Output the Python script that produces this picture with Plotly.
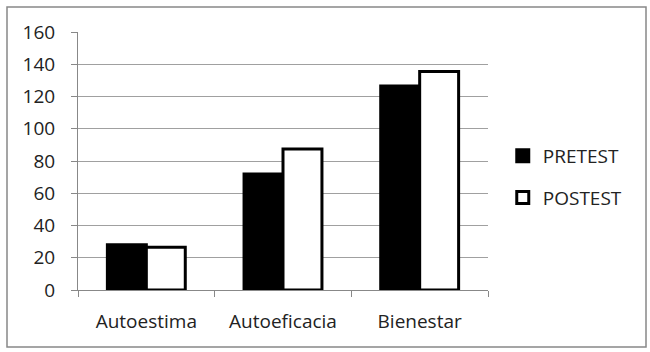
import plotly.graph_objects as go

categories = ["Autoestima", "Autoeficacia", "Bienestar"]
pretest = [28, 72, 126.5]
postest = [26.5, 87.5, 135.5]
y_ticks = [0, 20, 40, 60, 80, 100, 120, 140, 160]

FONT = "Open Sans, Liberation Sans, sans-serif"

fig = go.Figure()
fig.add_trace(go.Bar(x=categories, y=pretest, name="PRETEST", legendgroup="a",
                     marker=dict(color="black", line=dict(color="black", width=3))))
fig.add_trace(go.Bar(x=categories, y=postest, name="POSTEST", legendgroup="b",
                     marker=dict(color="white", line=dict(color="black", width=3))))

L, R, T, B = 78, 488, 32, 290
W, H = 650, 352
fig.update_layout(
    width=W, height=H,
    margin=dict(l=L, r=W - R, t=T, b=H - B, autoexpand=False),
    paper_bgcolor="white", plot_bgcolor="white",
    barmode="group", bargap=0.43, bargroupgap=0,
    font=dict(family=FONT, size=19, color="#222"),
    showlegend=True,
    legend=dict(x=1.036, y=0.438, xanchor="left", yanchor="middle",
                tracegroupgap=14, font=dict(size=19, color="#222"),
                itemwidth=30, traceorder="grouped"),
    xaxis=dict(showline=True, linecolor="#888", linewidth=1,
               ticks="outside", tickcolor="#888", ticklen=6,
               tickson="boundaries", showgrid=False,
               ticklabelstandoff=14, tickfont=dict(size=19)),
    yaxis=dict(range=[0, 160], tickvals=y_ticks, showline=True,
               linecolor="#888", linewidth=1, ticks="outside",
               tickcolor="#888", ticklen=6, gridcolor="#a0a0a0", gridwidth=1,
               zeroline=False, ticklabelstandoff=12, tickfont=dict(size=19)),
    shapes=[dict(type="rect", xref="paper", yref="paper",
                 x0=(7 - L) / (R - L), x1=(646 - L) / (R - L),
                 y0=(B - 347) / (B - T), y1=(B - 7) / (B - T),
                 line=dict(color="#888", width=1.5), layer="below")],
)
fig.write_html("out.html", config={"displayModeBar": False},
               post_script="document.body.style.margin='0';")
